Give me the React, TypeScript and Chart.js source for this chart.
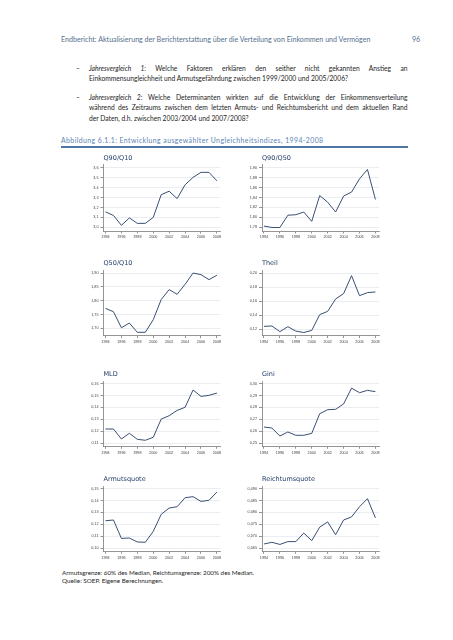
import React, { useEffect, useRef } from "react";
import { Chart, registerables } from "chart.js";
Chart.register(...registerables);

// ---------- data ----------
const years = [1994, 1995, 1996, 1997, 1998, 1999, 2000, 2001, 2002, 2003, 2004, 2005, 2006, 2007, 2008];
const xTickYears = [1994, 1996, 1998, 2000, 2002, 2004, 2006, 2008];

const q90q10 = [3.156, 3.12, 3.02, 3.095, 3.04, 3.04, 3.1, 3.33, 3.365, 3.29, 3.43, 3.505, 3.556, 3.556, 3.47];
const q90q50 = [1.782, 1.779, 1.779, 1.804, 1.805, 1.8105, 1.7915, 1.844, 1.8305, 1.8105, 1.843, 1.851, 1.878, 1.897, 1.836];
const q50q10 = [1.772, 1.76, 1.702, 1.719, 1.6855, 1.6855, 1.731, 1.804, 1.84, 1.823, 1.859, 1.9, 1.894, 1.876, 1.892];
const theil = [0.1238, 0.1243, 0.1162, 0.1233, 0.117, 0.115, 0.118, 0.1405, 0.1452, 0.1629, 0.1705, 0.1962, 0.1676, 0.172, 0.1729];
const mld = [0.1218, 0.1218, 0.1134, 0.1182, 0.1131, 0.1123, 0.1148, 0.1302, 0.133, 0.1375, 0.1401, 0.1547, 0.1493, 0.1502, 0.1521];
const gini = [0.2635, 0.2626, 0.2559, 0.2593, 0.2565, 0.2565, 0.2581, 0.2747, 0.2781, 0.2784, 0.2829, 0.2963, 0.2924, 0.2944, 0.2933];
const armutsquote = [0.123, 0.1236, 0.1081, 0.1084, 0.1051, 0.1048, 0.114, 0.1284, 0.1337, 0.1348, 0.1424, 0.1433, 0.1393, 0.1402, 0.1472];
const reichtumsquote = [0.0667, 0.0674, 0.0665, 0.0677, 0.0677, 0.0713, 0.0681, 0.0738, 0.076, 0.0706, 0.0768, 0.0781, 0.0824, 0.0858, 0.0777];

const q90q10Ticks = [3.0, 3.1, 3.2, 3.3, 3.4, 3.5, 3.6];
const q90q50Ticks = [1.78, 1.8, 1.82, 1.84, 1.86, 1.88, 1.9];
const q50q10Ticks = [1.7, 1.75, 1.8, 1.85, 1.9];
const theilTicks = [0.12, 0.14, 0.16, 0.18, 0.2];
const mldTicks = [0.11, 0.12, 0.13, 0.14, 0.15, 0.16];
const giniTicks = [0.25, 0.26, 0.27, 0.28, 0.29, 0.3];
const armutTicks = [0.1, 0.11, 0.12, 0.13, 0.14, 0.15];
const reichtumTicks = [0.065, 0.07, 0.075, 0.08, 0.085, 0.09];

// ---------- texts ----------
const HEADER = "Endbericht: Aktualisierung der Berichterstattung über die Verteilung von Einkommen und Vermögen";
const PAGE_NO = "96";
const ITEM1_LEAD = "Jahresvergleich 1";
const ITEM1_L1 = ": Welche Faktoren erklären den seither nicht gekannten Anstieg an";
const ITEM1_L2 = "Einkommensungleichheit und Armutsgefährdung zwischen 1999/2000 und 2005/2006?";
const ITEM2_LEAD = "Jahresvergleich 2";
const ITEM2_L1 = ": Welche Determinanten wirkten auf die Entwicklung der Einkommensverteilung";
const ITEM2_L2 = "während des Zeitraums zwischen dem letzten Armuts- und Reichtumsbericht und dem aktuellen Rand";
const ITEM2_L3 = "der Daten, d.h. zwischen 2003/2004 und 2007/2008?";
const CAPTION = "Abbildung 6.1.1: Entwicklung ausgewählter Ungleichheitsindizes, 1994-2008";
const NOTE1 = "Armutsgrenze: 60% des Median, Reichtumsgrenze: 200% des Median.";
const NOTE2 = "Quelle: SOEP. Eigene Berechnungen.";

// ---------- style ----------
const TEXT_FONT = "Lato, 'Open Sans', sans-serif";
const CHART_FONT = "'Liberation Sans', Arial, sans-serif";
const TITLE_FONT = "'DejaVu Sans', sans-serif";
const LINE_COLOR = "#3a4f73";
const GRID_COLOR = "#e4eaf0";
const AXIS_COLOR = "#7a7a7a";
const TICK_COLOR = "#444";
const TITLE_COLOR = "#213c66";

const TITLE_SIZE = 6.5;
const TITLE_LH = 1.2;
const TITLE_PT = 1;
const TITLE_PB = 2.6;
const X_AXIS_H = 12;
const PAD_R = 6;
const X_MIN = 1993.75;
const X_MAX = 2008.45;

const ROWS = [
  [157, 223],
  [262.3, 327.7],
  [373, 438.3],
  [478, 543.3],
];
const COLS = [
  { canvasLeft: 62, axisX: 95.5, areaRight: 212.5 },
  { canvasLeft: 222, axisX: 254, areaRight: 371 },
];

const panels = [
  { title: "Q90/Q10", values: q90q10, ticks: q90q10Ticks, dec: 1, min: 2.9626, max: 3.63, row: 0, col: 0 },
  { title: "Q90/Q50", values: q90q50, ticks: q90q50Ticks, dec: 2, min: 1.7719, max: 1.9061, row: 0, col: 1 },
  { title: "Q50/Q10", values: q50q10, ticks: q50q10Ticks, dec: 2, min: 1.6732, max: 1.9098, row: 1, col: 0 },
  { title: "Theil", values: theil, ticks: theilTicks, dec: 2, min: 0.11043, max: 0.20386, row: 1, col: 1 },
  { title: "MLD", values: mld, ticks: mldTicks, dec: 2, min: 0.10722, max: 0.16228, row: 2, col: 0 },
  { title: "Gini", values: gini, ticks: giniTicks, dec: 2, min: 0.24722, max: 0.30228, row: 2, col: 1 },
  { title: "Armutsquote", values: armutsquote, ticks: armutTicks, dec: 2, min: 0.09722, max: 0.15228, row: 3, col: 0 },
  { title: "Reichtumsquote", values: reichtumsquote, ticks: reichtumTicks, dec: 3, min: 0.06361, max: 0.09114, row: 3, col: 1 },
];

// ---------- text measuring ----------
let mctx: CanvasRenderingContext2D | null = null;
function measure(text: string, family: string, style = "") {
  if (!mctx) mctx = document.createElement("canvas").getContext("2d");
  mctx!.font = `${style} 100px ${family}`;
  return mctx!.measureText(text).width / 100; // width per 1px font size
}
function fit(text: string, family: string, target: number, style = "") {
  return target / measure(text, family, style);
}

function Panel({ spec }: { spec: any }) {
  const ref = useRef<HTMLCanvasElement>(null);
  const col = COLS[spec.col];
  const [aTop, aBot] = ROWS[spec.row];
  const titleH = TITLE_SIZE * TITLE_LH + TITLE_PT + TITLE_PB;
  const rawTop = aTop - titleH;
  const canvasTop = Math.floor(rawTop);
  const padTop = rawTop - canvasTop;
  const inner = padTop + titleH + (aBot - aTop) + X_AXIS_H;
  const H = Math.ceil(inner);
  const padBottom = H - inner;
  const W = Math.round(col.areaRight + PAD_R - col.canvasLeft);
  const padRight = W - (col.areaRight - col.canvasLeft);
  const yW = col.axisX - col.canvasLeft;

  useEffect(() => {
    const tickFont = { family: CHART_FONT, size: 3.75 };
    const chart = new Chart(ref.current as HTMLCanvasElement, {
      type: "line",
      data: {
        datasets: [
          {
            data: years.map((x, i) => ({ x, y: spec.values[i] })),
            borderColor: LINE_COLOR,
            borderWidth: 1,
            pointRadius: 0,
            tension: 0,
            fill: false,
          },
        ],
      },
      options: {
        animation: false,
        responsive: false,
        devicePixelRatio: 1,
        layout: { padding: { top: padTop, right: padRight, bottom: padBottom, left: 0 } },
        plugins: {
          legend: { display: false },
          tooltip: { enabled: false },
          title: {
            display: true,
            text: spec.title,
            align: "start",
            fullSize: false,
            color: TITLE_COLOR,
            font: { family: TITLE_FONT, size: TITLE_SIZE, weight: "normal", lineHeight: TITLE_LH },
            padding: { top: TITLE_PT, bottom: TITLE_PB },
          },
        },
        scales: {
          x: {
            type: "linear",
            min: X_MIN,
            max: X_MAX,
            afterBuildTicks: (s: any) => {
              s.ticks = xTickYears.map((v) => ({ value: v }));
            },
            afterFit: (s: any) => {
              s.height = X_AXIS_H;
            },
            grid: { drawOnChartArea: false, drawTicks: true, tickLength: 2.5, color: AXIS_COLOR, lineWidth: 0.8 },
            border: { display: true, color: AXIS_COLOR, width: 0.8 },
            ticks: {
              color: TICK_COLOR,
              font: tickFont,
              padding: 1.5,
              maxRotation: 0,
              autoSkip: false,
              callback: (v: any) => String(v),
            },
          },
          y: {
            type: "linear",
            min: spec.min,
            max: spec.max,
            afterBuildTicks: (s: any) => {
              s.ticks = spec.ticks.map((v: number) => ({ value: v }));
            },
            afterFit: (s: any) => {
              s.width = yW;
            },
            grid: { color: GRID_COLOR, tickColor: AXIS_COLOR, tickLength: 3, lineWidth: 0.8 },
            border: { display: true, color: AXIS_COLOR, width: 0.8 },
            ticks: {
              color: TICK_COLOR,
              font: tickFont,
              padding: 2,
              callback: (v: any) => Number(v).toFixed(spec.dec).replace(".", ","),
            },
          },
        },
      } as any,
    });
    return () => chart.destroy();
  }, []);

  return (
    <canvas
      ref={ref}
      width={W}
      height={H}
      style={{ position: "absolute", left: col.canvasLeft, top: canvasTop, width: W, height: H }}
    />
  );
}

function Line({ left, cy, size, children, width, justify, color, italic, lh = 10, spacing }: any) {
  return (
    <div
      style={{
        position: "absolute",
        left,
        top: cy - lh / 2,
        height: lh,
        lineHeight: lh + "px",
        fontSize: size,
        fontFamily: TEXT_FONT,
        color,
        width,
        whiteSpace: justify ? "normal" : "nowrap",
        textAlign: justify ? "justify" : "left",
        textAlignLast: justify ? "justify" : "auto",
        fontStyle: italic ? "italic" : "normal",
        letterSpacing: spacing,
        overflow: "visible",
      } as any}
    >
      {children}
    </div>
  );
}

export default function App() {
  useEffect(() => {
    document.body.style.background = "#ffffff";
  }, []);

  const headerSize = fit(HEADER, TEXT_FONT, 311);
  const bodyA = fit(ITEM1_L2, TEXT_FONT, 253);
  const bodyB = fit(ITEM2_L3, TEXT_FONT, 164);
  let bodySize = (bodyA + bodyB) / 2;
  const longest = Math.max(
    measure(ITEM1_LEAD + ITEM1_L1, TEXT_FONT),
    measure(ITEM2_LEAD + ITEM2_L1, TEXT_FONT),
    measure(ITEM2_L2, TEXT_FONT)
  );
  bodySize = Math.min(bodySize, 316 / longest);
  const capSize = 6.9;
  const capNatural = measure(CAPTION, TEXT_FONT) * capSize;
  const capSpacing = (263 - capNatural) / CAPTION.length;
  const noteSize = fit(NOTE1, TEXT_FONT, 192.7);

  const bodyColor = "#1e1e1e";
  const JW = 318.5;

  return (
    <div style={{ position: "relative", width: 453, height: 640 }}>
      <Line left={53} cy={31.7} size={headerSize} color="#56708f">{HEADER}</Line>
      <Line left={404} cy={31.7} size={headerSize} color="#56708f">{PAGE_NO}</Line>

      <Line left={68} cy={60} size={bodySize} color={bodyColor}>–</Line>
      <Line left={81} cy={60} size={bodySize} color={bodyColor} width={JW} justify>
        <i>{ITEM1_LEAD}</i>
        {ITEM1_L1}
      </Line>
      <Line left={81} cy={70.3} size={bodySize} color={bodyColor}>{ITEM1_L2}</Line>

      <Line left={68} cy={88.7} size={bodySize} color={bodyColor}>–</Line>
      <Line left={81} cy={88.7} size={bodySize} color={bodyColor} width={JW} justify>
        <i>{ITEM2_LEAD}</i>
        {ITEM2_L1}
      </Line>
      <Line left={81} cy={99.3} size={bodySize} color={bodyColor} width={JW} justify>{ITEM2_L2}</Line>
      <Line left={81} cy={110} size={bodySize} color={bodyColor}>{ITEM2_L3}</Line>

      <Line left={53} cy={132} size={capSize} color="#5b84b5" spacing={capSpacing}>{CAPTION}</Line>
      <div style={{ position: "absolute", left: 53, top: 137.5, width: 347, height: 2, background: "#4f74a6" }} />

      {panels.map((p) => (
        <Panel key={p.title} spec={p} />
      ))}

      <Line left={54} cy={565} size={noteSize} color={bodyColor}>{NOTE1}</Line>
      <Line left={54} cy={573.3} size={noteSize} color={bodyColor}>{NOTE2}</Line>
    </div>
  );
}
